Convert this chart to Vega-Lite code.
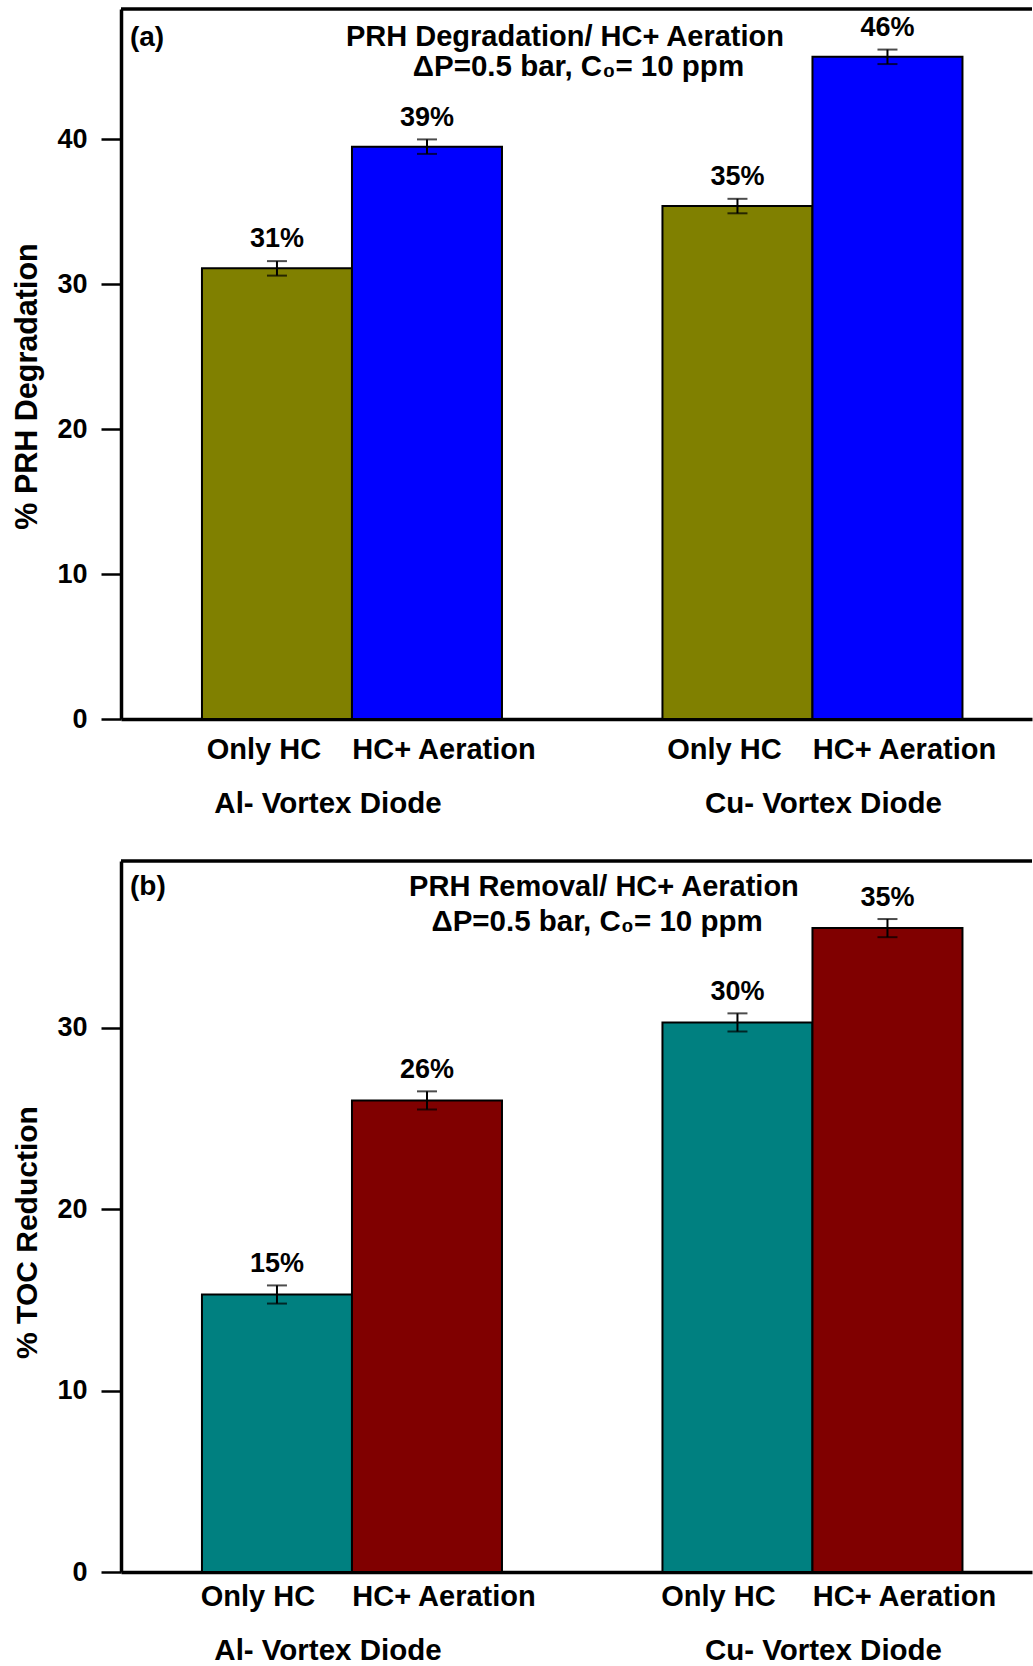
{
  "$schema": "https://vega.github.io/schema/vega-lite/v6.json",
  "padding": {"left": 12, "top": 7, "right": 0, "bottom": 0},
  "spacing": 41,
  "resolve": {"scale": {"color": "independent", "x": "independent", "y": "independent", "xOffset": "independent"}},
  "config": {
    "view": {"stroke": null},
    "axis": {"domainColor": "black", "tickColor": "black", "labelColor": "black", "titleColor": "black", "labelFont": "Liberation Sans", "titleFont": "Liberation Sans", "labelFontWeight": "bold", "titleFontWeight": "bold", "grid": false},
    "text": {"font": "Liberation Sans", "fontWeight": "bold", "color": "black"}
  },
  "datasets": {
    "deg": [
      {"diode": "Al- Vortex Diode", "treatment": "Only HC", "value": 31.1, "lo": 30.6, "hi": 31.6, "label": "31%"},
      {"diode": "Al- Vortex Diode", "treatment": "HC+ Aeration", "value": 39.5, "lo": 39.0, "hi": 40.0, "label": "39%"},
      {"diode": "Cu- Vortex Diode", "treatment": "Only HC", "value": 35.4, "lo": 34.9, "hi": 35.9, "label": "35%"},
      {"diode": "Cu- Vortex Diode", "treatment": "HC+ Aeration", "value": 45.7, "lo": 45.2, "hi": 46.2, "label": "46%"}
    ],
    "toc": [
      {"diode": "Al- Vortex Diode", "treatment": "Only HC", "value": 15.3, "lo": 14.8, "hi": 15.8, "label": "15%"},
      {"diode": "Al- Vortex Diode", "treatment": "HC+ Aeration", "value": 26.0, "lo": 25.5, "hi": 26.5, "label": "26%"},
      {"diode": "Cu- Vortex Diode", "treatment": "Only HC", "value": 30.3, "lo": 29.8, "hi": 30.8, "label": "30%"},
      {"diode": "Cu- Vortex Diode", "treatment": "HC+ Aeration", "value": 35.5, "lo": 35.0, "hi": 36.0, "label": "35%"}
    ]
  },
  "vconcat": [
    {
      "width": 911,
      "height": 710,
      "data": {"name": "deg"},
      "resolve": {"axis": {"x": "independent", "y": "independent"}},
      "layer": [
        {
          "mark": {"type": "bar", "stroke": "black", "strokeWidth": 2},
          "encoding": {
            "x": {"field": "diode", "type": "nominal", "sort": ["Al- Vortex Diode", "Cu- Vortex Diode"], "scale": {"paddingInner": 0.3485, "paddingOuter": 0.1634, "align": 0.538},
              "axis": {"title": null, "orient": "bottom", "ticks": false, "tickSize": 0, "domainWidth": 3.5, "labelFontSize": 29.5, "labelLimit": 0, "labelPadding": 84, "labelBaseline": "middle", "labelAngle": 0,
                "labelOffset": {"condition": {"test": "datum.value === 'Al- Vortex Diode'", "value": -24}, "value": 11}}},
            "xOffset": {"field": "treatment", "type": "nominal", "sort": ["Only HC", "HC+ Aeration"], "scale": {"paddingInner": 0, "paddingOuter": 0}},
            "y": {"field": "value", "type": "quantitative", "scale": {"domain": [0, 49], "nice": false},
              "axis": {"title": "% PRH Degradation", "values": [0, 10, 20, 30, 40], "tickSize": 20, "tickWidth": 2.5, "domainWidth": 3.5, "labelFontSize": 27, "labelPadding": 14, "titleFontSize": 30.5, "titlePadding": 14, "titleY": 377}},
            "color": {"field": "treatment", "type": "nominal", "scale": {"domain": ["Only HC", "HC+ Aeration"], "range": ["#808000", "#0000ff"]}, "legend": null}
          }
        },
        {
          "mark": {"type": "rule", "color": "black", "strokeWidth": 2},
          "encoding": {
            "x": {"field": "diode", "type": "nominal", "sort": ["Al- Vortex Diode", "Cu- Vortex Diode"], "axis": null},
            "xOffset": {"field": "treatment", "type": "nominal", "sort": ["Only HC", "HC+ Aeration"]},
            "y": {"field": "lo", "type": "quantitative", "axis": null},
            "y2": {"field": "hi"}
          }
        },
        {
          "mark": {"type": "tick", "color": "black", "size": 20, "thickness": 2},
          "encoding": {
            "x": {"field": "diode", "type": "nominal", "sort": ["Al- Vortex Diode", "Cu- Vortex Diode"], "axis": null},
            "xOffset": {"field": "treatment", "type": "nominal", "sort": ["Only HC", "HC+ Aeration"]},
            "y": {"field": "lo", "type": "quantitative", "axis": null}
          }
        },
        {
          "mark": {"type": "tick", "color": "black", "size": 20, "thickness": 2},
          "encoding": {
            "x": {"field": "diode", "type": "nominal", "sort": ["Al- Vortex Diode", "Cu- Vortex Diode"], "axis": null},
            "xOffset": {"field": "treatment", "type": "nominal", "sort": ["Only HC", "HC+ Aeration"]},
            "y": {"field": "hi", "type": "quantitative", "axis": null}
          }
        },
        {
          "mark": {"type": "text", "fontSize": 27, "dy": -29, "baseline": "middle"},
          "encoding": {
            "x": {"field": "diode", "type": "nominal", "sort": ["Al- Vortex Diode", "Cu- Vortex Diode"], "axis": null},
            "xOffset": {"field": "treatment", "type": "nominal", "sort": ["Only HC", "HC+ Aeration"]},
            "y": {"field": "value", "type": "quantitative", "axis": null},
            "text": {"field": "label"}
          }
        },
        {
          "transform": [{"filter": "datum.treatment === 'Only HC'"}],
          "mark": {"type": "text", "fontSize": 29, "dy": 31, "dx": -13, "baseline": "middle"},
          "encoding": {
            "x": {"field": "diode", "type": "nominal", "sort": ["Al- Vortex Diode", "Cu- Vortex Diode"], "axis": null},
            "xOffset": {"field": "treatment", "type": "nominal", "sort": ["Only HC", "HC+ Aeration"]},
            "y": {"datum": 0, "type": "quantitative", "axis": null},
            "text": {"field": "treatment"}
          }
        },
        {
          "transform": [{"filter": "datum.treatment === 'HC+ Aeration'"}],
          "mark": {"type": "text", "fontSize": 29, "dy": 31, "dx": 17, "baseline": "middle"},
          "encoding": {
            "x": {"field": "diode", "type": "nominal", "sort": ["Al- Vortex Diode", "Cu- Vortex Diode"], "axis": null},
            "xOffset": {"field": "treatment", "type": "nominal", "sort": ["Only HC", "HC+ Aeration"]},
            "y": {"datum": 0, "type": "quantitative", "axis": null},
            "text": {"field": "treatment"}
          }
        },
        {
          "data": {"values": [{"note": "top"}]},
          "mark": {"type": "rule", "color": "black", "strokeWidth": 3.5},
          "encoding": {"y": {"datum": 49, "type": "quantitative", "axis": null}}
        },
        {
          "data": {"values": [{"note": "(a)"}]},
          "mark": {"type": "text", "fontSize": 28, "align": "left", "baseline": "middle"},
          "encoding": {
            "x": {"datum": "Al- Vortex Diode", "type": "nominal", "bandPosition": -0.24, "axis": null},
            "y": {"datum": 47.0, "type": "quantitative", "axis": null},
            "text": {"field": "note"}
          }
        },
        {
          "data": {"values": [{"note": "PRH Degradation/ HC+ Aeration"}]},
          "mark": {"type": "text", "fontSize": 29, "align": "center", "baseline": "middle"},
          "encoding": {
            "x": {"datum": "Al- Vortex Diode", "type": "nominal", "bandPosition": 1.21, "axis": null},
            "y": {"datum": 47.1, "type": "quantitative", "axis": null},
            "text": {"field": "note"}
          }
        },
        {
          "data": {"values": [{"note": "ΔP=0.5 bar, C₀= 10 ppm"}]},
          "mark": {"type": "text", "fontSize": 29.5, "align": "center", "baseline": "middle"},
          "encoding": {
            "x": {"datum": "Al- Vortex Diode", "type": "nominal", "bandPosition": 1.255, "axis": null},
            "y": {"datum": 44.97, "type": "quantitative", "axis": null},
            "text": {"field": "note"}
          }
        }
      ]
    },
    {
      "width": 911,
      "height": 711,
      "data": {"name": "toc"},
      "resolve": {"axis": {"x": "independent", "y": "independent"}},
      "layer": [
        {
          "mark": {"type": "bar", "stroke": "black", "strokeWidth": 2},
          "encoding": {
            "x": {"field": "diode", "type": "nominal", "sort": ["Al- Vortex Diode", "Cu- Vortex Diode"], "scale": {"paddingInner": 0.3485, "paddingOuter": 0.1634, "align": 0.538},
              "axis": {"title": null, "orient": "bottom", "ticks": false, "tickSize": 0, "domainWidth": 3.5, "labelFontSize": 29.5, "labelLimit": 0, "labelPadding": 78, "labelBaseline": "middle", "labelAngle": 0,
                "labelOffset": {"condition": {"test": "datum.value === 'Al- Vortex Diode'", "value": -24}, "value": 11}}},
            "xOffset": {"field": "treatment", "type": "nominal", "sort": ["Only HC", "HC+ Aeration"], "scale": {"paddingInner": 0, "paddingOuter": 0}},
            "y": {"field": "value", "type": "quantitative", "scale": {"domain": [0, 39.2], "nice": false},
              "axis": {"title": "% TOC Reduction", "values": [0, 10, 20, 30], "tickSize": 20, "tickWidth": 2.5, "domainWidth": 3.5, "labelFontSize": 27, "labelPadding": 14, "titleFontSize": 30, "titlePadding": 14, "titleY": 371}},
            "color": {"field": "treatment", "type": "nominal", "scale": {"domain": ["Only HC", "HC+ Aeration"], "range": ["#008080", "#800000"]}, "legend": null}
          }
        },
        {
          "mark": {"type": "rule", "color": "black", "strokeWidth": 2},
          "encoding": {
            "x": {"field": "diode", "type": "nominal", "sort": ["Al- Vortex Diode", "Cu- Vortex Diode"], "axis": null},
            "xOffset": {"field": "treatment", "type": "nominal", "sort": ["Only HC", "HC+ Aeration"]},
            "y": {"field": "lo", "type": "quantitative", "axis": null},
            "y2": {"field": "hi"}
          }
        },
        {
          "mark": {"type": "tick", "color": "black", "size": 20, "thickness": 2},
          "encoding": {
            "x": {"field": "diode", "type": "nominal", "sort": ["Al- Vortex Diode", "Cu- Vortex Diode"], "axis": null},
            "xOffset": {"field": "treatment", "type": "nominal", "sort": ["Only HC", "HC+ Aeration"]},
            "y": {"field": "lo", "type": "quantitative", "axis": null}
          }
        },
        {
          "mark": {"type": "tick", "color": "black", "size": 20, "thickness": 2},
          "encoding": {
            "x": {"field": "diode", "type": "nominal", "sort": ["Al- Vortex Diode", "Cu- Vortex Diode"], "axis": null},
            "xOffset": {"field": "treatment", "type": "nominal", "sort": ["Only HC", "HC+ Aeration"]},
            "y": {"field": "hi", "type": "quantitative", "axis": null}
          }
        },
        {
          "mark": {"type": "text", "fontSize": 27, "dy": -30, "baseline": "middle"},
          "encoding": {
            "x": {"field": "diode", "type": "nominal", "sort": ["Al- Vortex Diode", "Cu- Vortex Diode"], "axis": null},
            "xOffset": {"field": "treatment", "type": "nominal", "sort": ["Only HC", "HC+ Aeration"]},
            "y": {"field": "value", "type": "quantitative", "axis": null},
            "text": {"field": "label"}
          }
        },
        {
          "transform": [{"filter": "datum.treatment === 'Only HC'"}],
          "mark": {"type": "text", "fontSize": 29, "dy": 25, "dx": -19, "baseline": "middle"},
          "encoding": {
            "x": {"field": "diode", "type": "nominal", "sort": ["Al- Vortex Diode", "Cu- Vortex Diode"], "axis": null},
            "xOffset": {"field": "treatment", "type": "nominal", "sort": ["Only HC", "HC+ Aeration"]},
            "y": {"datum": 0, "type": "quantitative", "axis": null},
            "text": {"field": "treatment"}
          }
        },
        {
          "transform": [{"filter": "datum.treatment === 'HC+ Aeration'"}],
          "mark": {"type": "text", "fontSize": 29, "dy": 25, "dx": 17, "baseline": "middle"},
          "encoding": {
            "x": {"field": "diode", "type": "nominal", "sort": ["Al- Vortex Diode", "Cu- Vortex Diode"], "axis": null},
            "xOffset": {"field": "treatment", "type": "nominal", "sort": ["Only HC", "HC+ Aeration"]},
            "y": {"datum": 0, "type": "quantitative", "axis": null},
            "text": {"field": "treatment"}
          }
        },
        {
          "data": {"values": [{"note": "top"}]},
          "mark": {"type": "rule", "color": "black", "strokeWidth": 3.5},
          "encoding": {"y": {"datum": 39.2, "type": "quantitative", "axis": null}}
        },
        {
          "data": {"values": [{"note": "(b)"}]},
          "mark": {"type": "text", "fontSize": 28, "align": "left", "baseline": "middle"},
          "encoding": {
            "x": {"datum": "Al- Vortex Diode", "type": "nominal", "bandPosition": -0.24, "axis": null},
            "y": {"datum": 37.77, "type": "quantitative", "axis": null},
            "text": {"field": "note"}
          }
        },
        {
          "data": {"values": [{"note": "PRH Removal/ HC+ Aeration"}]},
          "mark": {"type": "text", "fontSize": 29, "align": "center", "baseline": "middle"},
          "encoding": {
            "x": {"datum": "Al- Vortex Diode", "type": "nominal", "bandPosition": 1.34, "axis": null},
            "y": {"datum": 37.77, "type": "quantitative", "axis": null},
            "text": {"field": "note"}
          }
        },
        {
          "data": {"values": [{"note": "ΔP=0.5 bar, C₀= 10 ppm"}]},
          "mark": {"type": "text", "fontSize": 29.5, "align": "center", "baseline": "middle"},
          "encoding": {
            "x": {"datum": "Al- Vortex Diode", "type": "nominal", "bandPosition": 1.317, "axis": null},
            "y": {"datum": 35.84, "type": "quantitative", "axis": null},
            "text": {"field": "note"}
          }
        }
      ]
    }
  ]
}
